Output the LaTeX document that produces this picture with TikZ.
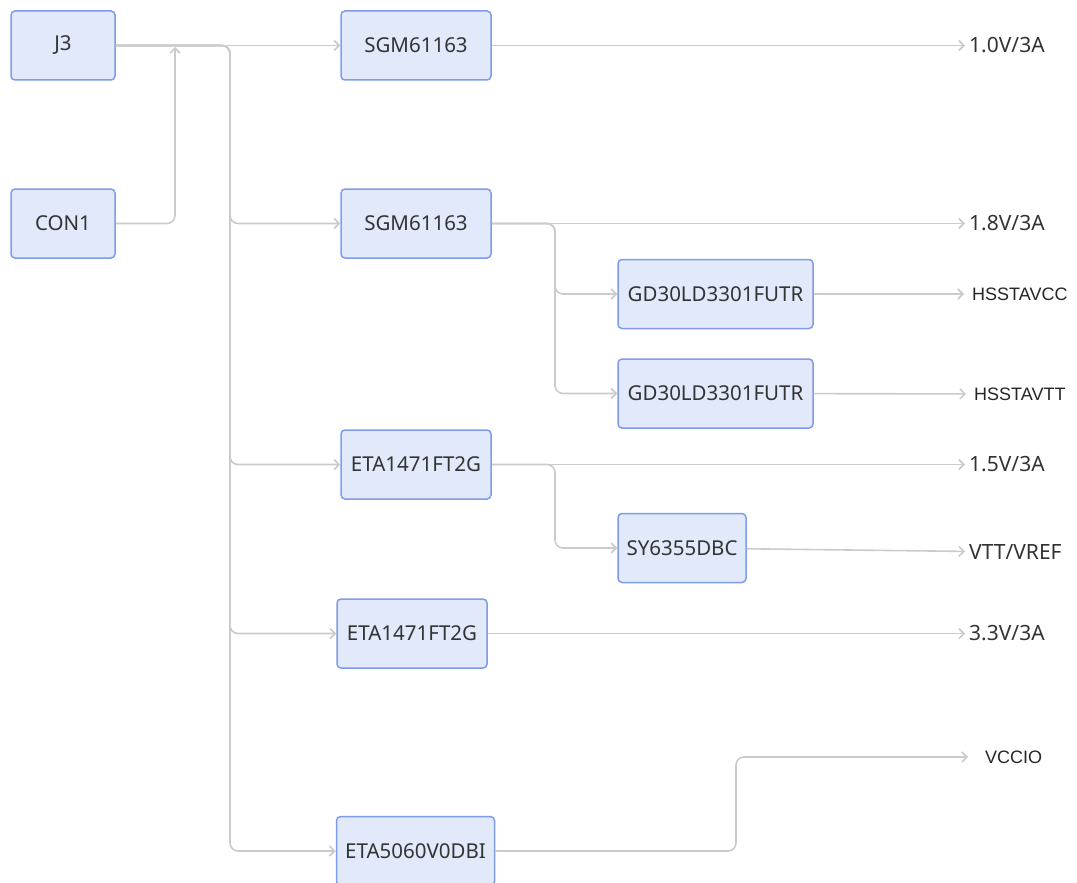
\documentclass[tikz,border=0pt]{standalone}
\usepackage{fontspec}
\setmainfont{Noto Sans}
\newfontfamily\arialfont{Liberation Sans}
\usetikzlibrary{arrows.meta}
\definecolor{chipfill}{HTML}{E1E9FB}
\definecolor{chipline}{HTML}{7F9CEA}
\definecolor{wiregray}{HTML}{CBCBCB}
\definecolor{txtgray}{HTML}{333333}

\begin{document}
\begin{tikzpicture}[x=1pt,y=-1pt,
    chip/.style={draw=chipline,line width=1.5pt,fill=chipfill,rounded corners=4pt,minimum height=69pt,text=txtgray,font=\fontsize{20.5}{24}\selectfont},
    rail/.style={anchor=west,text=txtgray,inner xsep=4pt,inner ysep=0pt,font=\fontsize{21}{24}\selectfont},
    net/.style={anchor=west,text=black!85,inner xsep=8pt,inner ysep=0pt,font=\arialfont\fontsize{18}{22}\selectfont},
    wire/.style={draw=wiregray,line width=1.6pt,rounded corners=8pt},
    >={Straight Barb[length=5pt,width=10pt]}]
    \useasboundingbox (0,0) rectangle (1077,883);
    \clip (0,0) rectangle (1077,883);

    \node[chip,minimum width=104pt] (j3) at (63,45.5) {J3};
    \node[chip,minimum width=104pt] (con1) at (63,223.5) {CON1};
    \node[chip,minimum width=150pt] (sgmA) at (416,45.5) {SGM61163};
    \node[chip,minimum width=150pt] (sgmB) at (416,223.5) {SGM61163};
    \node[chip,minimum width=195pt] (gdA) at (715.5,294) {GD30LD3301FUTR};
    \node[chip,minimum width=195pt] (gdB) at (715.5,393.5) {GD30LD3301FUTR};
    \node[chip,minimum width=150pt] (etaA) at (416,464.5) {ETA1471FT2G};
    \node[chip,minimum width=128pt] (sy) at (682,548) {SY6355DBC};
    \node[chip,minimum width=150pt] (etaB) at (412,633.5) {ETA1471FT2G};
    \node[chip,minimum width=158pt] (etaC) at (415.5,851) {ETA5060V0DBI};

    \node[rail] (v10) at (965,45.5) {1.0V/3A};
    \node[rail] (v18) at (965,223.5) {1.8V/3A};
    \node[net] (avcc) at (964,294) {HSSTAVCC};
    \node[net] (avtt) at (966,394) {HSSTAVTT};
    \node[rail] (v15) at (965,464.5) {1.5V/3A};
    \node[rail] (vtt) at (965,552) {VTT/VREF};
    \node[rail] (v33) at (965,633.5) {3.3V/3A};
    \node[net,inner xsep=17pt] (vccio) at (968,757) {VCCIO};

    \coordinate (join) at (175,47);
    \draw[wire,->] (j3) -- (sgmA);
    \draw[wire,->] (con1) -| (join);
    \draw[wire,->] (j3.east) -- (230,45.5) |- (sgmB);
    \draw[wire,->] (j3.east) -- (230,45.5) |- (etaA);
    \draw[wire,->] (j3.east) -- (230,45.5) |- (etaB);
    \draw[wire,->] (j3.east) -- (230,45.5) |- (etaC);

    \draw[wire,->] (sgmA) -- (v10);
    \draw[wire,->] (sgmB) -- (v18);
    \draw[wire,->] (sgmB.east) -- (555,223.5) |- (gdA);
    \draw[wire,->] (sgmB.east) -- (555,223.5) |- (gdB);
    \draw[wire,->] (gdA) -- (avcc);
    \draw[wire,->] (gdB) -- (avtt);

    \draw[wire,->] (etaA) -- (v15);
    \draw[wire,->] (etaA.east) -- (555,464.5) |- (sy);
    \draw[wire,->] (sy) -- (vtt);
    \draw[wire,->] (etaB) -- (v33);
    \draw[wire,->] (etaC.east) -- (736,851) |- (vccio);
\end{tikzpicture}
\end{document}
